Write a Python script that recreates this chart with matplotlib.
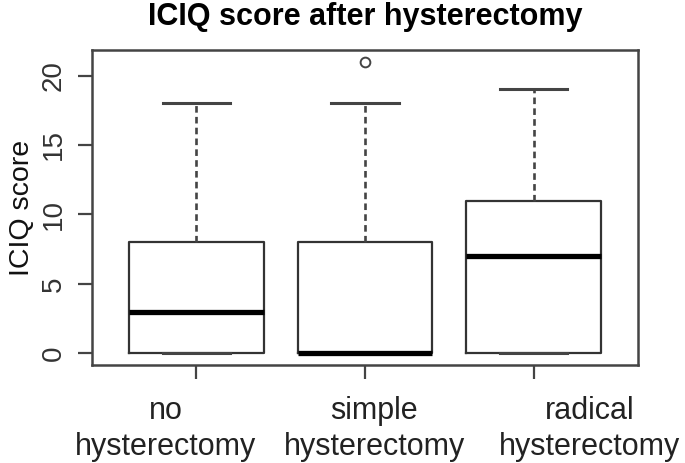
import matplotlib
matplotlib.use("Agg")
import matplotlib.pyplot as plt
import matplotlib.transforms as mtransforms

plt.rcParams['font.family'] = ['Liberation Sans', 'DejaVu Sans']

groups = ["no\nhysterectomy", "simple\nhysterectomy", "radical\nhysterectomy"]
whislo = [0, 0, 0]
q1 = [0, 0, 0]
med = [3, 0, 7]
q3 = [8, 8, 11]
whishi = [18, 18, 19]
fliers = [[], [21], []]

stats = []
for i in range(len(groups)):
    stats.append(dict(label=groups[i], whislo=whislo[i], q1=q1[i], med=med[i],
                      q3=q3[i], whishi=whishi[i], fliers=fliers[i]))

fig = plt.figure(figsize=(6.85, 4.63), dpi=100)
ax = fig.add_axes([92/685, 1 - 365/463, (638-92)/685, (365-50)/463])

ax.bxp(stats, positions=[1, 2, 3], widths=0.8, showfliers=True, patch_artist=False,
       boxprops=dict(color='#333333', linewidth=1.6),
       medianprops=dict(color='black', linewidth=3.8, solid_capstyle='butt'),
       whiskerprops=dict(color='#444444', linewidth=1.9, linestyle=(0, (2.5, 1.6))),
       capprops=dict(color='#444444', linewidth=2.2),
       flierprops=dict(marker='o', markerfacecolor='white', markeredgecolor='#444444',
                       markersize=7, markeredgewidth=1.4),
       capwidths=0.4)

ax.set_xlim(0.38, 3.62)
ax.set_ylim(-0.84, 21.84)
ax.set_yticks([0, 5, 10, 15, 20])
ax.set_yticklabels(['0', '5', '10', '15', '20'], rotation=90, va='center', fontsize=20, color='#333333')
ax.set_xticks([1, 2, 3])
ax.set_xticklabels(groups, fontsize=22, color='#222222', linespacing=1.3)
ax.tick_params(axis='both', length=10, width=1.6, color='#444444', pad=8)
ax.tick_params(axis='x', pad=12)

# labels in the source sit spread wider than the ticks
shifts = [-31, 9, 56]
for lab, dx in zip(ax.get_xticklabels(), shifts):
    lab.set_transform(lab.get_transform() + mtransforms.ScaledTranslation(dx/100, 0, fig.dpi_scale_trans))

for s in ax.spines.values():
    s.set_linewidth(1.8)
    s.set_color('#444444')

ax.set_ylabel('ICIQ score', fontsize=20.5, color='#111111', labelpad=4)
ax.set_title('ICIQ score after hysterectomy', fontsize=22, fontweight='bold', pad=18)

fig.savefig('out.png', dpi=100)
